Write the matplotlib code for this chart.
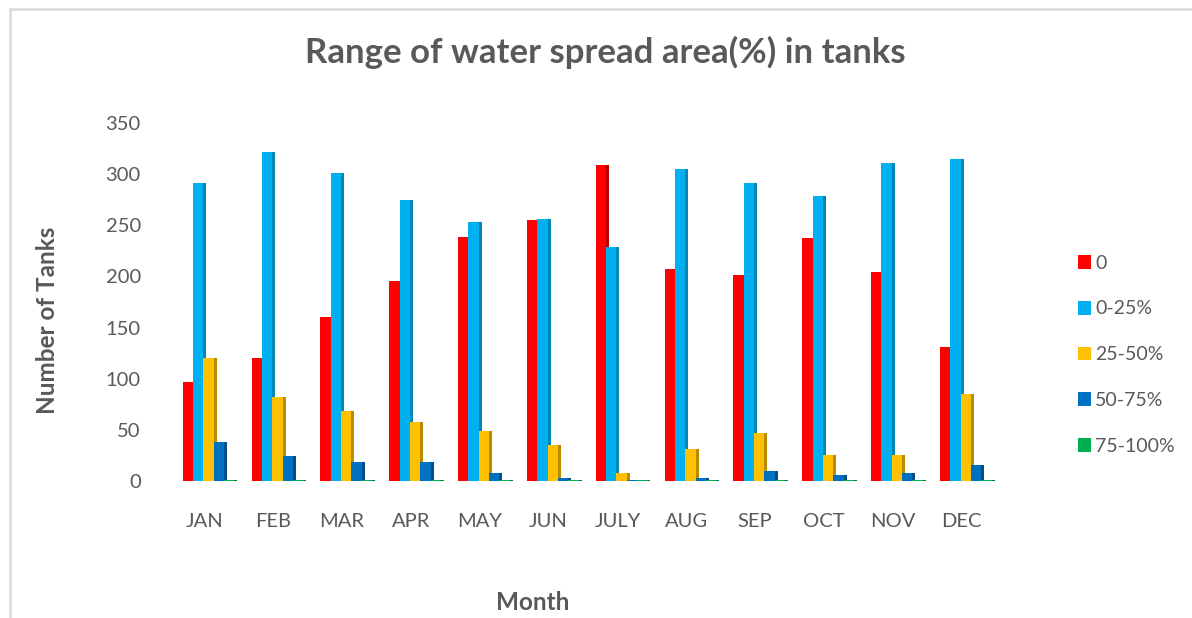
import matplotlib
matplotlib.use("Agg")
import matplotlib.pyplot as plt
import numpy as np
from matplotlib.patches import Patch

months = ["JAN", "FEB", "MAR", "APR", "MAY", "JUN", "JULY", "AUG", "SEP", "OCT", "NOV", "DEC"]
series_names = ["0", "0-25%", "25-50%", "50-75%", "75-100%"]
s_0 = [97, 120, 160, 196, 239, 255, 309, 207, 201, 238, 204, 131]
s_0_25 = [291, 322, 301, 275, 253, 256, 229, 305, 291, 279, 311, 315]
s_25_50 = [120, 82, 68, 58, 49, 35, 8, 31, 47, 25, 25, 85]
s_50_75 = [38, 24, 19, 19, 8, 3, 1, 3, 10, 6, 8, 16]
s_75_100 = [1, 1, 1, 1, 1, 1, 1, 1, 1, 1, 1, 1]
series = [s_0, s_0_25, s_25_50, s_50_75, s_75_100]

colors = ["#FF0000", "#00B0F0", "#FFC000", "#0070C0", "#00B050"]
side_colors = ["#B80000", "#0087B8", "#B98C00", "#004F88", "#007A3D"]
text_color = "#595959"

plt.rcParams['font.family'] = ['Lato', 'DejaVu Sans']

fig = plt.figure(figsize=(11.92, 6.18), dpi=100)
ax = fig.add_axes([170/1192, 1 - 481/618, 826/1192, 358/618])

x = np.arange(len(months))
w = 0.15
side = 0.045
offset = 0.06
for i, (vals, c, sc) in enumerate(zip(series, colors, side_colors)):
    xs = x + offset + (i - 2) * w
    ax.bar(xs + w/2 + side/2 - 0.001, vals, width=side, color=sc, zorder=2 + 2*i, linewidth=0)
    ax.bar(xs, vals, width=w, color=c, zorder=3 + 2*i, linewidth=0)

ax.set_xlim(-0.5, 11.5)
ax.set_ylim(0, 350)
ax.set_yticks(np.arange(0, 351, 50))
ax.set_xticks(x)
ax.set_xticklabels(months)
for s in ax.spines.values():
    s.set_visible(False)
ax.tick_params(axis='both', length=0, labelsize=14.5, colors=text_color)
ax.tick_params(axis='x', pad=23)
ax.tick_params(axis='y', pad=21)

fig.text(605/1192, 1 - 52/618, "Range of water spread area(%) in tanks", ha='center', va='center',
         fontsize=25, fontweight='bold', color=text_color)
fig.text(48/1192, 1 - 320/618, "Number of Tanks", rotation=90, ha='center', va='center',
         fontsize=17.5, fontweight='bold', color=text_color)
fig.text(533/1192, 1 - 602/618, "Month", ha='center', va='center',
         fontsize=17.5, fontweight='bold', color=text_color)

handles = [Patch(facecolor=c, edgecolor='none') for c in colors]
leg = fig.legend(handles, series_names, loc='upper left', bbox_to_anchor=(1068/1192, 1 - 245/618),
                 frameon=False, fontsize=14, labelcolor=text_color, handlelength=0.7, handleheight=0.7,
                 handletextpad=0.2, labelspacing=1.48, borderpad=0)

# chart border (top and left)
fig.add_artist(plt.Line2D([10/1192, 10/1192], [0, 1 - 9/618], transform=fig.transFigure,
                          color="#D9D9D9", linewidth=1.8))
fig.add_artist(plt.Line2D([10/1192, 1], [1 - 9/618, 1 - 9/618], transform=fig.transFigure,
                          color="#D9D9D9", linewidth=1.8))

fig.savefig("out.png", dpi=100, facecolor='white')
